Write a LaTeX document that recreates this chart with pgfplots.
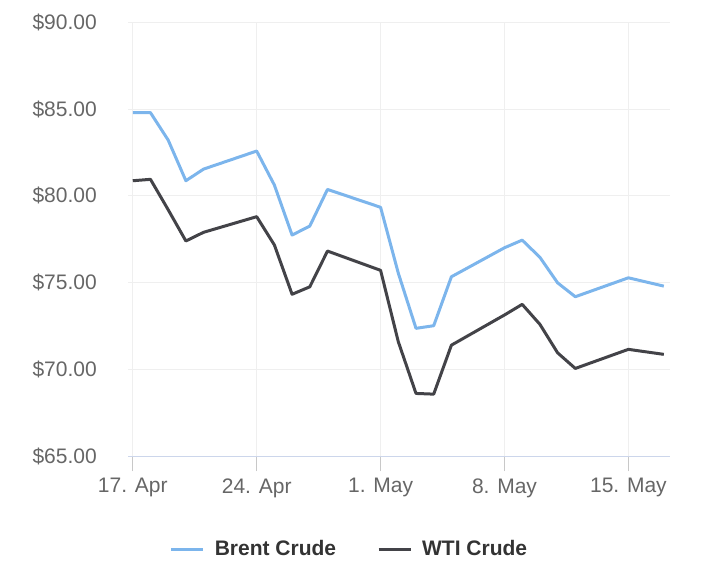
\documentclass[border=0pt]{standalone}
\usepackage{pgfplots}
\pgfplotsset{compat=1.18}
\usepackage{fontspec}
\setmainfont{Liberation Sans}
\definecolor{brent}{HTML}{7CB5EC}
\definecolor{wti}{HTML}{434348}
\definecolor{gridc}{HTML}{EFEFEF}
\definecolor{axisc}{HTML}{CCD6EB}
\definecolor{tickc}{HTML}{C8C8C8}
\definecolor{labc}{HTML}{666666}
\definecolor{legc}{HTML}{333333}
\begin{document}
\begin{tikzpicture}
\useasboundingbox (0,0) rectangle (712pt,568pt);
\begin{axis}[
  at={(128pt,111.7pt)}, anchor=south west,
  scale only axis, width=542pt, height=434.1pt,
  xmin=-0.27, xmax=30.35, ymin=65, ymax=90,
  axis x line*=bottom, axis y line*=left,
  x axis line style={draw=axisc, line width=1pt, -},
  y axis line style={draw=none},
  xtick={0,7,14,21,28},
  xticklabels={17. Apr,24. Apr,1. May,8. May,15. May},
  ytick={65,70,75,80,85,90},
  yticklabels={\$65.00,\$70.00,\$75.00,\$80.00,\$85.00,\$90.00},
  tick align=outside,
  major tick length=15pt,
  xtick style={draw=tickc, line width=1pt},
  ytick style={draw=none},
  xmajorgrids, ymajorgrids,
  major grid style={draw=gridc, line width=1pt},
  x tick label style={font=\fontsize{21}{25}\selectfont, text=labc, anchor=north, inner sep=0pt, yshift=-7pt},
  y tick label style={font=\fontsize{21}{25}\selectfont, text=labc, anchor=east, inner sep=0pt, xshift=-16pt},
  legend columns=2,
  legend style={at={(0.4068,-0.2136)}, anchor=center, draw=none, fill=none,
    font=\fontsize{21}{25}\selectfont\bfseries, text=legc,
    nodes={inner sep=0pt},
    /tikz/every odd column/.append style={column sep=10pt},
    /tikz/every even column/.append style={column sep=41pt}},
  legend image code/.code={\draw[#1, line width=3pt] (0pt,0pt) -- (32pt,0pt);},
  every axis plot/.append style={line width=3pt, line join=round, mark=none},
]
\addplot[brent] coordinates {
(0,84.79) (1,84.79) (2,83.21) (3,80.87) (4,81.54) (7,82.58) (8,80.62) (9,77.74)
(10,78.26) (11,80.37) (14,79.34) (15,75.55) (16,72.37) (17,72.52) (18,75.34)
(21,77.01) (22,77.45) (23,76.46) (24,74.99) (25,74.19) (28,75.28) (30,74.80)};
\addlegendentry{Brent Crude}
\addplot[wti] coordinates {
(0,80.87) (1,80.95) (2,79.2) (3,77.4) (4,77.9) (7,78.8) (8,77.17) (9,74.33)
(10,74.76) (11,76.82) (14,75.71) (15,71.6) (16,68.62) (17,68.58) (18,71.4)
(21,73.14) (22,73.75) (23,72.6) (24,70.96) (25,70.06) (28,71.16) (30,70.87)};
\addlegendentry{WTI Crude}
\end{axis}
\end{tikzpicture}
\end{document}
